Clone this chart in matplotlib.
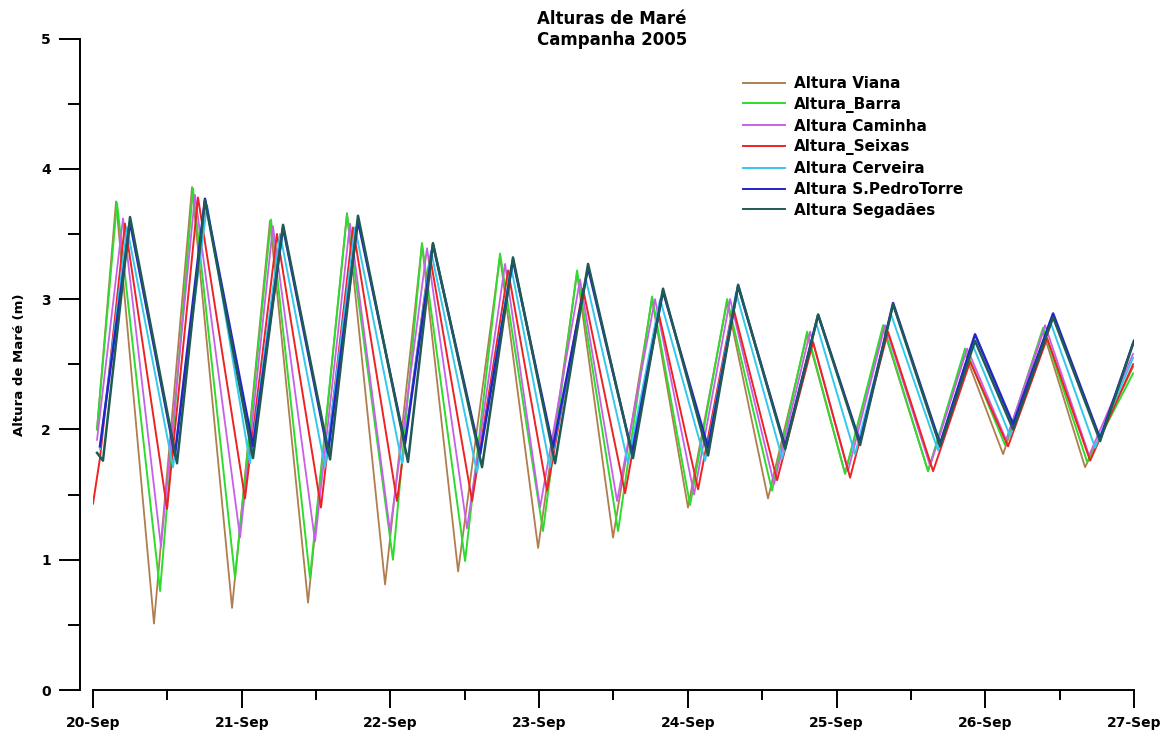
import matplotlib
matplotlib.use("Agg")
import matplotlib.pyplot as plt
from matplotlib.ticker import FixedLocator, MultipleLocator

plt.rcParams['font.family'] = ['DejaVu Sans']

# ---- data: tidal extremes (time in days after 20-Sep 00:00, height in m) ----
day_labels = ['20-Sep', '21-Sep', '22-Sep', '23-Sep', '24-Sep', '25-Sep', '26-Sep', '27-Sep']

series_names = ['Altura Viana', 'Altura_Barra', 'Altura Caminha', 'Altura_Seixas',
                'Altura Cerveira', 'Altura S.PedroTorre', 'Altura Segadães']

viana_t = [0.027, 0.155, 0.410, 0.666, 0.935, 1.190, 1.446, 1.708, 1.964, 2.212, 2.455, 2.737, 2.993, 3.255,
           3.497, 3.759, 4.001, 4.264, 4.539, 4.802, 5.057, 5.313, 5.615, 5.864, 6.120, 6.389, 6.671, 6.994]
viana_h = [2.00, 3.75, 0.51, 3.86, 0.63, 3.60, 0.67, 3.66, 0.81, 3.42, 0.91, 3.33, 1.09, 3.20,
           1.17, 3.00, 1.40, 2.98, 1.47, 2.73, 1.66, 2.78, 1.68, 2.58, 1.81, 2.75, 1.71, 2.48]

barra_t = [0.027, 0.161, 0.451, 0.672, 0.955, 1.197, 1.459, 1.708, 2.017, 2.212, 2.502, 2.737, 3.026, 3.255,
           3.531, 3.759, 4.015, 4.264, 4.566, 4.802, 5.057, 5.313, 5.615, 5.864, 6.133, 6.389, 6.685, 6.994]
barra_h = [2.00, 3.74, 0.76, 3.85, 0.86, 3.61, 0.86, 3.65, 1.00, 3.43, 0.99, 3.35, 1.22, 3.22,
           1.22, 3.02, 1.42, 3.00, 1.53, 2.75, 1.66, 2.80, 1.68, 2.62, 1.88, 2.78, 1.75, 2.43]

caminha_t = [0.027, 0.202, 0.457, 0.686, 0.989, 1.210, 1.493, 1.728, 1.997, 2.246, 2.515, 2.771, 3.006, 3.275,
             3.524, 3.779, 4.042, 4.284, 4.580, 4.822, 5.077, 5.326, 5.629, 5.878, 6.140, 6.402, 6.698, 6.994]
caminha_h = [1.92, 3.62, 1.10, 3.80, 1.17, 3.56, 1.14, 3.58, 1.22, 3.39, 1.24, 3.27, 1.40, 3.15,
             1.45, 3.00, 1.50, 3.00, 1.58, 2.75, 1.68, 2.80, 1.72, 2.62, 1.92, 2.80, 1.80, 2.58]

seixas_t = [0.000, 0.047, 0.215, 0.498, 0.706, 1.022, 1.237, 1.533, 1.748, 2.044, 2.266, 2.549, 2.791, 3.053, 3.295,
            3.578, 3.800, 4.069, 4.304, 4.600, 4.842, 5.091, 5.346, 5.649, 5.898, 6.153, 6.416, 6.705, 6.994]
seixas_h = [1.43, 1.78, 3.58, 1.39, 3.78, 1.47, 3.50, 1.40, 3.55, 1.45, 3.33, 1.45, 3.22, 1.53, 3.08,
            1.51, 2.91, 1.54, 2.94, 1.61, 2.67, 1.63, 2.75, 1.68, 2.52, 1.87, 2.70, 1.76, 2.50]

cerveira_t = [0.047, 0.229, 0.538, 0.767, 1.056, 1.258, 1.560, 1.762, 2.078, 2.273, 2.582, 2.811, 3.073, 3.315,
              3.598, 3.813, 4.116, 4.324, 4.634, 4.862, 5.124, 5.367, 5.682, 5.911, 6.167, 6.436, 6.738, 6.994]
cerveira_h = [1.85, 3.55, 1.71, 3.72, 1.74, 3.50, 1.71, 3.55, 1.74, 3.37, 1.67, 3.25, 1.71, 3.15,
              1.74, 3.00, 1.76, 3.05, 1.78, 2.82, 1.81, 2.88, 1.84, 2.66, 1.95, 2.83, 1.86, 2.55]

spedro_t = [0.047, 0.249, 0.551, 0.753, 1.076, 1.278, 1.580, 1.782, 2.098, 2.286, 2.603, 2.824, 3.093, 3.329,
            3.625, 3.833, 4.136, 4.338, 4.654, 4.876, 5.158, 5.380, 5.696, 5.931, 6.187, 6.456, 6.772, 7.000]
spedro_h = [1.87, 3.59, 1.80, 3.77, 1.87, 3.55, 1.82, 3.60, 1.89, 3.42, 1.81, 3.30, 1.86, 3.24,
            1.82, 3.06, 1.86, 3.10, 1.87, 2.88, 1.90, 2.97, 1.89, 2.73, 2.04, 2.89, 1.93, 2.68]

segadaes_t = [0.027, 0.067, 0.249, 0.565, 0.753, 1.076, 1.278, 1.594, 1.782, 2.118, 2.286, 2.616, 2.824, 3.107, 3.329,
              3.631, 3.833, 4.136, 4.338, 4.654, 4.876, 5.158, 5.380, 5.696, 5.931, 6.187, 6.456, 6.772, 6.994]
segadaes_h = [1.82, 1.76, 3.63, 1.74, 3.76, 1.78, 3.57, 1.77, 3.64, 1.75, 3.43, 1.71, 3.32, 1.74, 3.27,
              1.78, 3.08, 1.80, 3.11, 1.85, 2.88, 1.88, 2.96, 1.87, 2.68, 2.00, 2.86, 1.91, 2.66]

series_t = [viana_t, barra_t, caminha_t, seixas_t, cerveira_t, spedro_t, segadaes_t]
series_h = [viana_h, barra_h, caminha_h, seixas_h, cerveira_h, spedro_h, segadaes_h]
colors = ['#B07D4E', '#2EDC2E', '#C760E8', '#EE2222', '#33C8EE', '#2424C8', '#1F5A55']
widths = [1.3, 1.4, 1.3, 1.4, 1.4, 1.8, 1.8]

# ---- figure ----
W, H = 1164, 736
fig = plt.figure(figsize=(W / 100, H / 100), dpi=100)
x0, x1, ytop, ybot = 93, 1134, 38.5, 690
ax = fig.add_axes([x0 / W, 1 - ybot / H, (x1 - x0) / W, (ybot - ytop) / H])

for t, h, c, lw, name in zip(series_t, series_h, colors, widths, series_names):
    ax.plot(t, h, color=c, lw=lw, label=name, solid_joinstyle='round')

ax.set_xlim(0, 7)
ax.set_ylim(0, 5)

for s in ['top', 'right']:
    ax.spines[s].set_visible(False)
ax.spines['left'].set_position(('outward', 9.4))
ax.spines['left'].set_bounds(0, 5)
ax.spines['bottom'].set_bounds(0, 7)
for s in ['left', 'bottom']:
    ax.spines[s].set_linewidth(1.4)

ax.xaxis.set_major_locator(FixedLocator(range(len(day_labels))))
ax.set_xticklabels(day_labels)
ax.xaxis.set_minor_locator(MultipleLocator(0.5))
ax.yaxis.set_major_locator(MultipleLocator(1))
ax.yaxis.set_minor_locator(MultipleLocator(0.5))

ax.tick_params(axis='x', which='major', direction='out', length=13, width=1.4, pad=6,
               labelsize=10)
ax.tick_params(axis='x', which='minor', direction='out', length=7, width=1.4)
ax.tick_params(axis='y', which='major', direction='out', length=15, width=1.4, pad=6,
               labelsize=10)
ax.tick_params(axis='y', which='minor', direction='out', length=9, width=1.4)
for lab in ax.get_xticklabels() + ax.get_yticklabels():
    lab.set_fontweight('bold')

ax.set_ylabel('Altura de Maré (m)', fontsize=9.5, fontweight='bold')
ax.yaxis.set_label_coords(-0.064, 0.5)

fig.text(612 / W, 1 - 10 / H, 'Alturas de Maré\nCampanha 2005', ha='center', va='top',
         fontsize=12, fontweight='bold', linespacing=1.2)

leg = ax.legend(loc='upper left', bbox_to_anchor=(743 / W, 1 - 76 / H),
                bbox_transform=fig.transFigure, frameon=False, borderpad=0,
                borderaxespad=0, handlelength=2.75, handletextpad=0.6,
                labelspacing=0.38, prop={'weight': 'bold', 'size': 11})
for line in leg.get_lines():
    line.set_linewidth(1.4)

fig.savefig('out.png', dpi=100)
